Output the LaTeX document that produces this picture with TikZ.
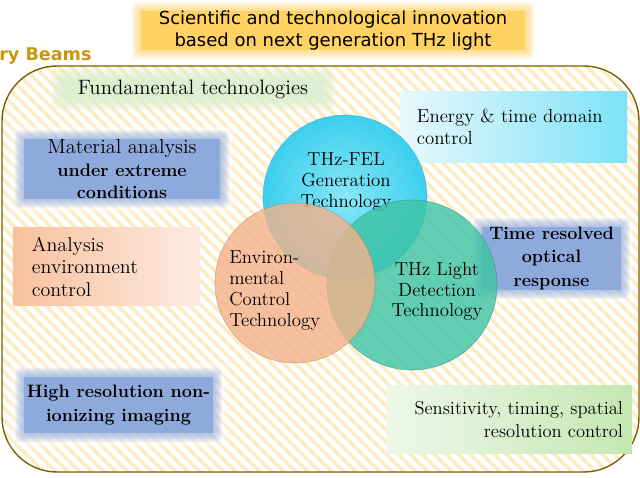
\documentclass[tikz,border=0pt]{standalone}
\usepackage{fontspec}
\setsansfont{DejaVu Sans}
\usetikzlibrary{backgrounds, positioning}

\definecolor{frameline}{RGB}{127,96,0}
\definecolor{stripe}{RGB}{253,236,194}
\definecolor{beamgold}{RGB}{201,150,12}
\definecolor{innovyellow}{RGB}{255,210,98}
\definecolor{fundgreen}{RGB}{220,239,208}
\definecolor{softblue}{RGB}{142,169,219}
\definecolor{cyanpale}{RGB}{232,248,252}
\definecolor{cyandeep}{RGB}{125,226,248}
\definecolor{peachdeep}{RGB}{248,192,158}
\definecolor{peachpale}{RGB}{253,236,226}
\definecolor{greenpale}{RGB}{238,247,233}
\definecolor{greendeep}{RGB}{196,232,178}
\definecolor{felcyan}{RGB}{44,204,238}
\definecolor{fellight}{RGB}{126,230,248}
\definecolor{envorange}{RGB}{244,178,140}
\definecolor{detgreen}{RGB}{64,196,166}

% soft (blurred) edge round a node
\newcommand{\softedge}[4]{%
  \begin{scope}[on background layer]
    \foreach \k in {1,...,#3}
      \fill[#2, opacity=#4, rounded corners=3pt]
        ([shift={(-\k,\k)}]#1.south west) rectangle ([shift={(\k,-\k)}]#1.north east);
  \end{scope}}

\begin{document}
\begin{tikzpicture}[x=0.025cm, y=-0.025cm,
  every node/.style={inner sep=0pt},
  txt/.style={font=\fontsize{#1}{16}\selectfont},
  heavy/.style={font=\fontsize{12.8}{16.5}\selectfont\bfseries, align=center},
  circtext/.style={font=\fontsize{13.4}{14.8}\selectfont, align=center},
  blurblue/.style={fill=softblue, align=center},
  plate/.style 2 args={rectangle, left color=#1, right color=#2}]

\useasboundingbox (0,0) rectangle (640,478);

% striped frame
\begin{scope}[on background layer]
  \fill[white] (0,0) rectangle (640,478);
  \begin{scope}
    \clip[rounded corners=1.375cm] (2,66) rectangle (639,472);
    \foreach \s in {-440,-428,...,650}
      \draw[stripe, line width=0.085cm] (\s,60) -- ++(420,420);
  \end{scope}
  \draw[frameline, line width=1pt, rounded corners=1.375cm] (2,66) rectangle (639,472);
\end{scope}

\node[anchor=base west, text=beamgold, font=\sffamily\bfseries\fontsize{12.5}{14}\selectfont] (beams) at (-1,61) {ry Beams};

% boxes
\node[fill=innovyellow, minimum width=9.6cm, minimum height=0.8cm, align=center,
  font=\sffamily\fontsize{12.8}{15}\selectfont] (innov) at (333,30.5)
  {Scientific and technological innovation\\based on next generation THz light};
\softedge{innov}{innovyellow}{9}{0.1}

\node[txt=14.8, fill=fundgreen, minimum width=6.5cm, minimum height=0.4cm] (fund) at (193,89) {Fundamental technologies};
\softedge{fund}{fundgreen}{12}{0.1}

\node[plate={cyanpale}{cyandeep}, txt=13.4, minimum width=5.675cm, minimum height=1.75cm, inner xsep=0.425cm,
  text width=4.825cm, align=left] (energy) at (513.5,127) {Energy \& time domain\\control};

\node[blurblue, txt=14.5, minimum width=4.9cm, minimum height=1.2cm] (material) at (122,169)
  {Material analysis\\{\fontsize{12.8}{16}\selectfont\bfseries under extreme}\\{\fontsize{12.8}{16}\selectfont\bfseries conditions}};
\softedge{material}{white}{16}{0.08}
\softedge{material}{softblue}{9}{0.1}

\node[plate={peachdeep}{peachpale}, txt=14.2, minimum width=4.675cm, minimum height=1.925cm, inner xsep=0.475cm,
  text width=3.725cm, align=left] (analysis) at (106.5,266.5) {Analysis\\environment\\control};

\node[blurblue, heavy, minimum width=3.45cm, minimum height=1.45cm] (timeres) at (551.5,258.5)
  {Time resolved\\optical\\response};
\softedge{timeres}{white}{16}{0.08}
\softedge{timeres}{softblue}{9}{0.1}

\node[blurblue, heavy, minimum width=4.7cm, minimum height=1.4cm] (imaging) at (118.5,405)
  {High resolution non-\\ionizing imaging};
\softedge{imaging}{white}{16}{0.08}
\softedge{imaging}{softblue}{9}{0.1}

\node[plate={greenpale}{greendeep}, txt=13.2, minimum width=6.125cm, minimum height=1.675cm, inner xsep=0.225cm,
  text width=5.675cm, align=right] (sensing) at (509.5,419.5) {Sensitivity, timing, spatial\\resolution control};

% circles
\node[circle, minimum size=4.1cm, inner color=fellight, outer color=felcyan, opacity=0.92,
  draw=felcyan!70!black, draw opacity=0.4] (gen) at (345,197) {};
\node[circtext] (gentxt) at (346,182) {THz-FEL\\Generation\\Technology};

\node[circle, minimum size=4.25cm, fill=detgreen, fill opacity=0.82,
  draw=detgreen!60!black, draw opacity=0.45] (det) at (412,285) {};
\node[circtext] (dettxt) at (437,291.5) {THz Light\\Detection\\Technology};

\node[circle, minimum size=4.0cm, fill=envorange, fill opacity=0.8,
  draw=envorange!60!black, draw opacity=0.45] (env) at (295,283) {};
\node[circtext, align=left, anchor=west] (envtxt) at (229,290.5) {Environ-\\mental\\Control\\Technology};

\end{tikzpicture}
\end{document}
